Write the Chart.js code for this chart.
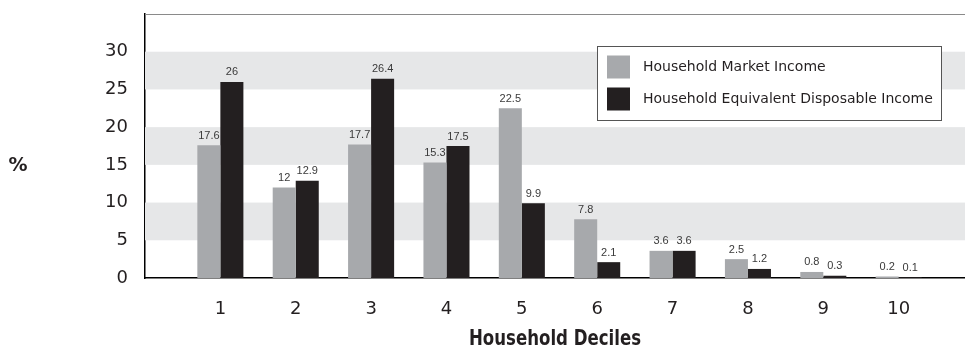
<!DOCTYPE html>
<html>
<head>
<meta charset="utf-8">
<script src="https://cdn.jsdelivr.net/npm/chart.js@4.4.1/dist/chart.umd.min.js"></script>
<style>
  html, body { margin: 0; padding: 0; background: #ffffff; }
  #wrap { width: 965px; height: 349px; position: relative; }
</style>
</head>
<body>
<div id="wrap"><canvas id="c" width="965" height="349"></canvas></div>
<script>
// Income share by household decile (%)
const deciles = [1, 2, 3, 4, 5, 6, 7, 8, 9, 10];
const marketIncome = [17.6, 12, 17.7, 15.3, 22.5, 7.8, 3.6, 2.5, 0.8, 0.2];
const disposableIncome = [26, 12.9, 26.4, 17.5, 9.9, 2.1, 3.6, 1.2, 0.3, 0.1];
const yTicks = [0, 5, 10, 15, 20, 25, 30];
const shadedBands = [[5, 10], [15, 20], [25, 30]];
const seriesNames = ['Household Market Income', 'Household Equivalent Disposable Income'];
const xTitle = 'Household Deciles';
const yTitle = '%';

const GREY = '#a7a9ac';
const DARK = '#231f20';
const TEXT = '#231f20';
const SANS = "'DejaVu Sans', Arial, sans-serif";
const LABEL_FONT = "'Liberation Sans', Arial, sans-serif";
const NARROW = "'Liberation Sans Narrow', 'DejaVu Sans Condensed', Arial, sans-serif";

const toPoints = vals => vals.map((v, i) => ({ x: deciles[i], y: v }));

// Alternating horizontal shading behind the bars, plus the thin top frame line
const bandsPlugin = {
  id: 'bands',
  beforeDatasetsDraw(chart) {
    const { ctx, chartArea: a, scales: { y } } = chart;
    ctx.save();
    ctx.fillStyle = '#e6e7e8';
    shadedBands.forEach(([lo, hi]) => {
      const top = y.getPixelForValue(hi);
      const bot = y.getPixelForValue(lo);
      ctx.fillRect(a.left, top, a.right - a.left, bot - top);
    });
    ctx.strokeStyle = '#8a8a8a';
    ctx.lineWidth = 1;
    ctx.beginPath();
    ctx.moveTo(a.left, a.top + 0.5);
    ctx.lineTo(a.right, a.top + 0.5);
    ctx.stroke();
    ctx.restore();
  }
};

// Value labels above each bar
const valueLabels = {
  id: 'valueLabels',
  afterDatasetsDraw(chart) {
    const { ctx } = chart;
    ctx.save();
    ctx.font = '11px ' + LABEL_FONT;
    ctx.fillStyle = '#3a3a3a';
    ctx.textAlign = 'center';
    ctx.textBaseline = 'alphabetic';
    chart.data.datasets.forEach((ds, di) => {
      const meta = chart.getDatasetMeta(di);
      meta.data.forEach((bar, i) => {
        ctx.fillText(String(ds.data[i].y), bar.x, bar.y - 6.5);
      });
    });
    ctx.restore();
  }
};

// Boxed legend inside the plot, axis captions
const boxLegend = {
  id: 'boxLegend',
  afterDraw(chart) {
    const { ctx, chartArea: a } = chart;
    ctx.save();
    const bx = 597.5, by = 46.5, bw = 344, bh = 74;
    ctx.fillStyle = '#ffffff';
    ctx.fillRect(bx, by, bw, bh);
    ctx.strokeStyle = '#555555';
    ctx.lineWidth = 1;
    ctx.strokeRect(bx, by, bw, bh);
    ctx.font = '14px ' + SANS;
    ctx.textBaseline = 'middle';
    ctx.textAlign = 'left';
    chart.data.datasets.forEach((ds, i) => {
      const cy = 67 + i * 32;
      ctx.fillStyle = ds.backgroundColor;
      ctx.fillRect(607, cy - 11.5, 23, 23);
      ctx.fillStyle = TEXT;
      ctx.fillText(ds.label, 643, cy);
    });

    // "%" caption to the left of the value axis
    ctx.fillStyle = TEXT;
    ctx.font = 'bold 19px ' + SANS;
    ctx.textAlign = 'center';
    ctx.fillText(yTitle, 18, 166);

    // Condensed bold caption under the decile axis
    ctx.font = 'bold 22px ' + NARROW;
    const w = ctx.measureText(xTitle).width;
    const sx = Math.min(1, 172 / w);
    const cx = (a.left + a.right) / 2;
    ctx.translate(cx, 339);
    ctx.scale(sx, 1);
    ctx.fillText(xTitle, 0, 0);
    ctx.restore();
  }
};

new Chart(document.getElementById('c'), {
  type: 'bar',
  data: {
    datasets: [
      { label: seriesNames[0], data: toPoints(marketIncome), backgroundColor: GREY },
      { label: seriesNames[1], data: toPoints(disposableIncome), backgroundColor: DARK }
    ]
  },
  options: {
    responsive: false,
    animation: false,
    devicePixelRatio: 1,
    layout: { padding: { top: 14, right: 0, left: 0, bottom: 0 } },
    datasets: { bar: { categoryPercentage: 0.611, barPercentage: 1.0 } },
    plugins: { legend: { display: false }, tooltip: { enabled: false } },
    scales: {
      x: {
        type: 'linear',
        offset: false,
        min: 0,
        max: 10.88,
        grid: { display: false, drawTicks: false },
        border: { display: true, color: '#000000', width: 1.5 },
        afterBuildTicks: s => { s.ticks = deciles.map(v => ({ value: v })); },
        afterFit: s => { s.height = 71; s.paddingLeft = 0; s.paddingRight = 0; },
        ticks: {
          padding: 21,
          color: TEXT,
          font: { family: SANS, size: 18 },
          callback: v => String(v)
        }
      },
      y: {
        min: 0,
        max: 35,
        grid: { display: false, drawTicks: false },
        border: { display: true, color: '#000000', width: 1.5 },
        afterBuildTicks: s => { s.ticks = yTicks.map(v => ({ value: v })); },
        afterFit: s => { s.width = 145; s.paddingTop = 0; s.paddingBottom = 0; },
        ticks: {
          padding: 17,
          color: TEXT,
          font: { family: SANS, size: 18 },
          callback: v => String(v)
        }
      }
    }
  },
  plugins: [bandsPlugin, valueLabels, boxLegend]
});
</script>
</body>
</html>
